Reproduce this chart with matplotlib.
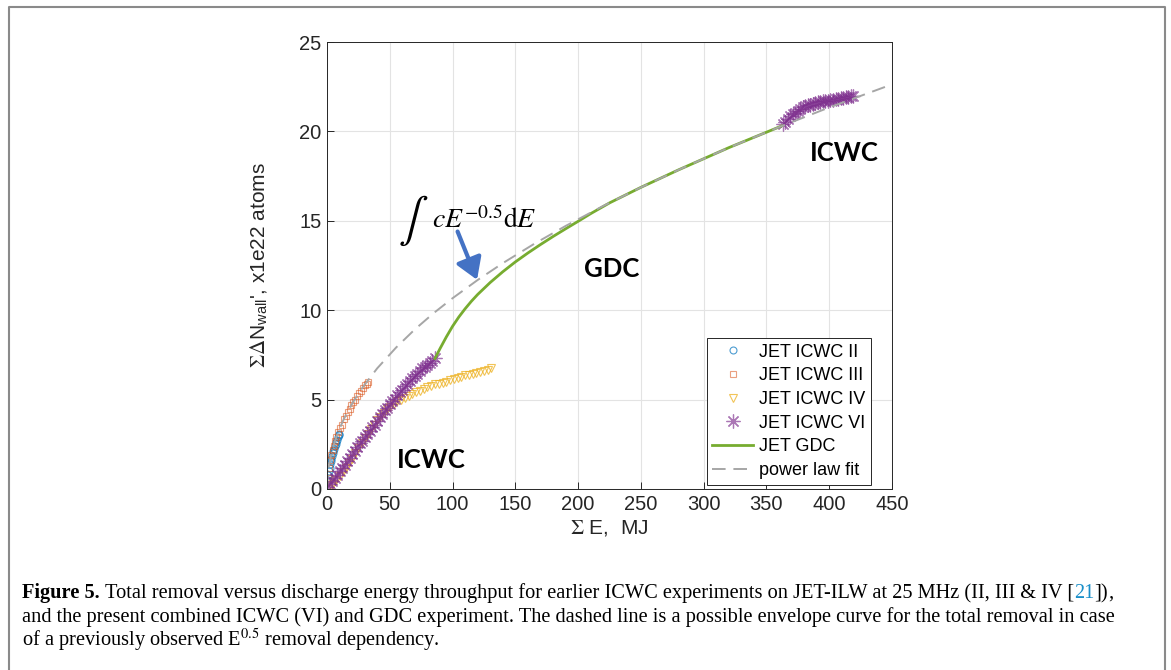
import matplotlib
matplotlib.use('Agg')
import matplotlib.pyplot as plt
from matplotlib.lines import Line2D

W, H = 1171, 670

# JET ICWC II (blue circles)
icwc2_E = [0.5, 1.0, 1.5, 2.0, 2.5, 3.0, 3.5, 4.0, 4.5, 5.0, 5.6, 6.2, 6.8, 7.4, 8.0, 8.6, 9.2, 9.8]
icwc2_N = [0.5, 0.8, 1.0, 1.2, 1.4, 1.55, 1.7, 1.85, 2.0, 2.1, 2.25, 2.4, 2.5, 2.65, 2.75, 2.9, 3.0, 3.1]

# JET ICWC III (red squares)
icwc3_E = [0.5, 1.5, 2.5, 3.5, 4.5, 5.5, 6.5, 7.5, 9.0, 10.5, 12.0, 13.5, 15.0, 16.5, 18.0,
           19.5, 21.0, 22.5, 24.0, 25.5, 27.0, 28.5, 30.0, 31.5, 33.0]
icwc3_N = [0.6, 1.2, 1.6, 1.9, 2.2, 2.4, 2.7, 2.9, 3.2, 3.4, 3.6, 3.9, 4.1, 4.3, 4.5,
           4.7, 4.85, 5.0, 5.2, 5.35, 5.5, 5.65, 5.8, 5.9, 6.0]

# JET ICWC IV (yellow triangles)
icwc4_E = [1, 3, 5, 7.5, 10, 12.5, 15, 17.5, 20, 22.5, 25, 27.5, 30, 32.5, 35, 37.5, 40, 42.5,
           45, 47.5, 50, 53, 56, 59, 62, 65, 68, 71, 74, 77, 80, 83, 86, 89, 92, 95, 98, 101,
           104, 107, 110, 113, 116, 119, 122, 125, 128, 131]
icwc4_N = [0.0, 0.15, 0.3, 0.5, 0.7, 0.95, 1.2, 1.45, 1.7, 2.0, 2.3, 2.6, 2.85, 3.1, 3.35, 3.6, 3.85, 4.05,
           4.25, 4.45, 4.6, 4.75, 4.9, 5.0, 5.1, 5.2, 5.3, 5.4, 5.5, 5.6, 5.7, 5.75, 5.85, 5.9, 5.95, 6.0, 6.1, 6.15,
           6.2, 6.25, 6.35, 6.4, 6.45, 6.5, 6.55, 6.6, 6.65, 6.75]

# JET ICWC VI (purple asterisks), two campaigns
icwc6a_E = [0, 2, 4, 6, 8, 10, 12, 14, 16, 18, 20, 22, 24, 26, 28, 30, 32, 34, 36, 38, 40, 42,
            44, 46, 48, 50, 52, 54, 56, 58, 60, 62, 64, 66, 68, 70, 72, 74, 76, 78, 80, 82, 84, 86]
icwc6a_N = [0.1, 0.3, 0.45, 0.6, 0.8, 1.0, 1.2, 1.35, 1.55, 1.75, 1.95, 2.15, 2.35, 2.55, 2.7, 2.9, 3.1, 3.25, 3.45, 3.6, 3.8, 4.0,
            4.2, 4.4, 4.55, 4.75, 4.9, 5.05, 5.25, 5.4, 5.55, 5.75, 5.9, 6.05, 6.2, 6.3, 6.45, 6.6, 6.75, 6.85, 6.95, 7.05, 7.15, 7.3]
icwc6b_E = [363, 365, 367, 369, 371, 373, 375, 377, 379, 381, 383, 385, 387, 389, 391, 393, 395,
            397, 399, 401, 403, 405, 407, 409, 411, 413, 415, 417, 419]
icwc6b_N = [20.4, 20.55, 20.7, 20.85, 20.95, 21.05, 21.15, 21.25, 21.35, 21.4, 21.45, 21.5, 21.55, 21.6, 21.62, 21.65, 21.68,
            21.7, 21.72, 21.75, 21.78, 21.8, 21.82, 21.85, 21.88, 21.9, 21.93, 21.96, 22.0]

# JET GDC (green line)
gdc_E = [86, 90, 95, 100, 105, 110, 115, 120, 130, 140, 150, 160, 170, 180, 190, 200, 210, 225, 250, 280, 320, 362]
gdc_N = [7.3, 7.85, 8.5, 9.1, 9.62, 10.08, 10.5, 10.88, 11.55, 12.15, 12.7, 13.2, 13.67, 14.12, 14.55, 14.97, 15.4,
         16.0, 16.87, 17.85, 19.09, 20.3]

# power law fit (dashed)
fit_E = [0, 0.5, 1, 2, 3, 4, 6, 8, 10, 13, 16, 20, 25, 30, 40, 55, 70, 85, 100, 120, 140, 165, 190, 220, 250,
         285, 320, 360, 400, 450]
fit_N = [0, 0.75, 1.07, 1.51, 1.85, 2.13, 2.61, 3.02, 3.37, 3.85, 4.27, 4.77, 5.34, 5.84, 6.75, 7.91, 8.93, 9.84,
         10.67, 11.69, 12.63, 13.71, 14.71, 15.83, 16.87, 18.01, 19.09, 20.24, 21.34, 22.63]

xticks = [0, 50, 100, 150, 200, 250, 300, 350, 400, 450]
yticks = [0, 5, 10, 15, 20, 25]

plt.rcParams['font.family'] = ['Liberation Sans', 'DejaVu Sans']

fig = plt.figure(figsize=(W / 100, H / 100), dpi=100)
ax = fig.add_axes([327 / W, 1 - 489 / H, (892 - 327) / W, (489 - 42) / H])

c_blue = (0.0, 0.447, 0.741)
c_red = (0.85, 0.325, 0.098)
c_yel = (0.929, 0.694, 0.125)
c_pur = (0.494, 0.184, 0.556)
c_grn = (0.466, 0.674, 0.188)
asterisk = (8, 2, 0)

ax.plot(icwc2_E, icwc2_N, ls='none', marker='o', ms=5, mfc='none', mec=c_blue, mew=0.8, alpha=0.7,
        label='JET ICWC II')
ax.plot(icwc3_E, icwc3_N, ls='none', marker='s', ms=5, mfc='none', mec=c_red, mew=0.8, alpha=0.55,
        label='JET ICWC III')
ax.plot(icwc4_E, icwc4_N, ls='none', marker='v', ms=6, mfc='none', mec=c_yel, mew=0.8, alpha=0.75,
        label='JET ICWC IV')
ax.plot(icwc6a_E, icwc6a_N, ls='none', marker=asterisk, ms=10, mec=c_pur, mew=0.9, alpha=0.65,
        label='JET ICWC VI')
ax.plot(icwc6b_E, icwc6b_N, ls='none', marker=asterisk, ms=10, mec=c_pur, mew=0.9, alpha=0.65)
ax.plot(gdc_E, gdc_N, color=c_grn, lw=2, label='JET GDC')
ax.plot(fit_E, fit_N, color='#a6a6a6', lw=1.4, ls=(0, (7, 4)), label='power law fit')

ax.set_xlim(0, 450)
ax.set_ylim(0, 25)
ax.set_xticks(xticks)
ax.set_yticks(yticks)
ax.grid(True, color='#e3e3e3', lw=0.8)
ax.set_axisbelow(True)
ax.tick_params(direction='in', length=5, width=0.7, colors='#262626', labelsize=14.5, pad=4)
for sp in ax.spines.values():
    sp.set_color('#262626')
    sp.set_linewidth(0.7)

ax.set_xlabel(r"$\Sigma$ E,  MJ", fontsize=15, color='#262626', labelpad=3, math_fontfamily='stix')
ax.set_ylabel(r"$\Sigma\Delta\mathregular{N}_{\mathregular{wall}}$', x1e22 atoms", fontsize=15,
              color='#262626', math_fontfamily='stix')
ax.yaxis.set_label_coords(-0.1, 0.5)

leg = ax.legend(loc='lower right', bbox_to_anchor=(0.962, 0.01), fontsize=13, frameon=True, fancybox=False,
                edgecolor='#262626', framealpha=1, handlelength=2.3, handletextpad=0.3, labelspacing=0.37,
                borderpad=0.3, numpoints=1, borderaxespad=0)
leg.get_frame().set_linewidth(0.7)

# annotations
lbl = dict(fontsize=18.5, fontweight='bold', family=['Lato', 'DejaVu Sans'], ha='center', va='center')
ax.text(83, 1.6, 'ICWC', **lbl)
ax.text(227, 12.3, 'GDC', **lbl)
ax.text(412, 18.8, 'ICWC', **lbl)
ax.text(69, 15.0, r'$\int$', math_fontfamily='stix', fontsize=32, ha='center', va='center')
ax.text(84, 14.6, r'$cE^{-0.5}\mathrm{d}E$', math_fontfamily='stix', fontsize=20, ha='left', va='baseline')
ax.annotate('', xy=(119.5, 11.7), xytext=(104, 14.4),
            arrowprops=dict(arrowstyle='-|>,head_length=0.4,head_width=0.25', mutation_scale=32,
                            color='#4472c4', lw=3, shrinkA=0, shrinkB=0))

# outer frame
fx = [9 / W, 9 / W, 1165 / W, 1165 / W]
fy = [0, 1 - 7 / H, 1 - 7 / H, 0]
fig.add_artist(Line2D(fx, fy, transform=fig.transFigure, color='#8a8a8a', lw=1.5))

# caption, written piece by piece so that bold / coloured runs line up
r = fig.canvas.get_renderer()
cap = dict(fontsize=14.7, family=['Liberation Serif', 'DejaVu Serif'], va='baseline',
           math_fontfamily='stix')


def text_w(s, **kw):
    t = fig.text(0, 0, s, **{**cap, **kw})
    w = t.get_window_extent(renderer=r).width
    t.remove()
    return w


sp_w = text_w('a a') - text_w('aa')


def caption_line(y, pieces):
    x = 22
    for s, kw, gap in pieces:
        t = fig.text(x / W, 1 - y / H, s, **{**cap, 'color': 'black', **kw})
        x += t.get_window_extent(renderer=r).width + (sp_w if gap else 0)


caption_line(598, [('Figure 5.', dict(fontweight='bold'), True),
                   ('Total removal versus discharge energy throughput for earlier ICWC experiments on JET-ILW at 25 MHz (II, III & IV [', {}, False),
                   ('21', dict(color='#1a8fc9'), False),
                   ('])', {}, False),
                   (',', {}, False)])
caption_line(622, [('and the present combined ICWC (VI) and GDC experiment. The dashed line is a possible envelope curve for the total removal in case', {}, False)])
caption_line(646, [(r'of a previously observed E$^{0.5}$ removal dependency.', {}, False)])

fig.savefig('out.png', dpi=100)
